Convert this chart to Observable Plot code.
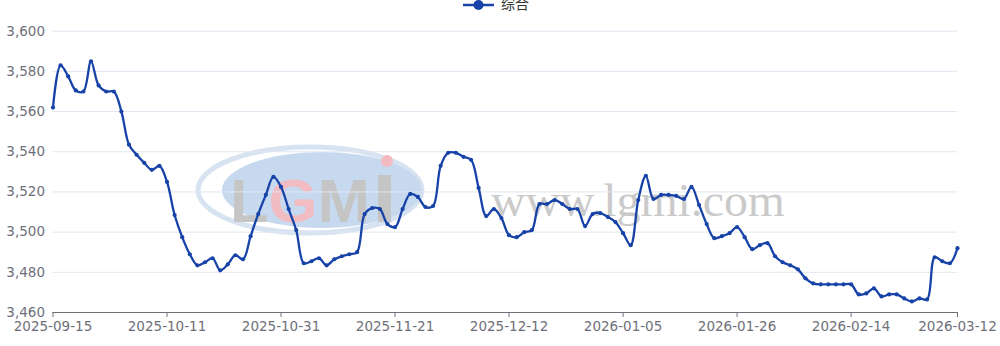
<!DOCTYPE html>
<html>
<head>
<meta charset="utf-8">
<script src="https://cdn.jsdelivr.net/npm/d3@7"></script>
<script src="https://cdn.jsdelivr.net/npm/@observablehq/plot@0.6"></script>
<style>
  html, body { margin: 0; padding: 0; background: #fff; }
  #wrap { position: relative; width: 1000px; height: 346px; overflow: hidden; }
  #wm { position: absolute; left: 0; top: 0; z-index: 0; }
  #legend { position: relative; z-index: 1; display: block; }
  #chart { position: relative; z-index: 1; }
</style>
</head>
<body>
<div id="wrap">
  <svg id="wm" width="1000" height="346">
    <g opacity="0.95">
      <ellipse cx="310" cy="190" rx="112" ry="43" fill="none" stroke="#d6e2f2" stroke-width="5"/>
      <ellipse cx="322" cy="190" rx="100" ry="38" fill="#c5d8ee"/>
      <text x="230" y="222" font-family="Liberation Sans, sans-serif" font-weight="bold" font-size="62" fill="#c4c2c2" textLength="140" lengthAdjust="spacingAndGlyphs"><tspan>L</tspan><tspan fill="#f1b9bf">G</tspan><tspan>M</tspan></text>
      <rect x="378" y="175" width="13" height="47" fill="#c4c2c2"/>
      <circle cx="387" cy="161" r="6" fill="#f3b6bd"/>
      <text x="491" y="216" font-family="Liberation Serif, serif" font-size="47" fill="#c8c8c8" textLength="294" lengthAdjust="spacingAndGlyphs">www.lgmi.com</text>
    </g>
  </svg>
  <svg id="legend" width="1000" height="12">
    <line x1="463" x2="494" y1="5" y2="5" stroke="#1742a8" stroke-width="2.5"/>
    <circle cx="478.5" cy="5" r="5" fill="#1742a8"/>
    <text x="501" y="5" dominant-baseline="middle" font-family="Noto Sans CJK SC, sans-serif" font-size="14" fill="#333">综合</text>
  </svg>
  <div id="chart"></div>
</div>
<script>
const dates = [
  "2025-09-15","2025-09-16","2025-09-17","2025-09-18","2025-09-19","2025-09-22","2025-09-23","2025-09-24","2025-09-25","2025-09-26",
  "2025-09-28","2025-09-29","2025-09-30","2025-10-09","2025-10-10","2025-10-11","2025-10-13","2025-10-14","2025-10-15","2025-10-16",
  "2025-10-17","2025-10-20","2025-10-21","2025-10-22","2025-10-23","2025-10-24","2025-10-27","2025-10-28","2025-10-29","2025-10-30",
  "2025-10-31","2025-11-03","2025-11-04","2025-11-05","2025-11-06","2025-11-07","2025-11-10","2025-11-11","2025-11-12","2025-11-13",
  "2025-11-14","2025-11-17","2025-11-18","2025-11-19","2025-11-20","2025-11-21","2025-11-24","2025-11-25","2025-11-26","2025-11-27",
  "2025-11-28","2025-12-01","2025-12-02","2025-12-03","2025-12-04","2025-12-05","2025-12-08","2025-12-09","2025-12-10","2025-12-11",
  "2025-12-12","2025-12-15","2025-12-16","2025-12-17","2025-12-18","2025-12-19","2025-12-22","2025-12-23","2025-12-24","2025-12-25",
  "2025-12-26","2025-12-29","2025-12-30","2025-12-31","2026-01-04","2026-01-05","2026-01-06","2026-01-07","2026-01-08","2026-01-09",
  "2026-01-12","2026-01-13","2026-01-14","2026-01-15","2026-01-16","2026-01-19","2026-01-20","2026-01-21","2026-01-22","2026-01-23",
  "2026-01-26","2026-01-27","2026-01-28","2026-01-29","2026-01-30","2026-02-02","2026-02-03","2026-02-04","2026-02-05","2026-02-06",
  "2026-02-09","2026-02-10","2026-02-11","2026-02-12","2026-02-13","2026-02-14","2026-02-24","2026-02-25","2026-02-26","2026-02-27",
  "2026-02-28","2026-03-02","2026-03-03","2026-03-04","2026-03-05","2026-03-06","2026-03-09","2026-03-10","2026-03-11","2026-03-12"
];
const values = [
  3562, 3583, 3577.5, 3570.5, 3570, 3585, 3573, 3570, 3570, 3560,
  3543.5, 3538.5, 3534.5, 3531, 3533, 3525, 3508.5, 3497.5, 3489, 3483.5,
  3485, 3487, 3481, 3484, 3488.5, 3486.5, 3498, 3509, 3518.5, 3527.5,
  3522.5, 3511.5, 3501, 3484.5, 3485.5, 3487, 3483.5, 3486.5, 3488, 3489,
  3490, 3509, 3512, 3511.5, 3504, 3502.5, 3511.5, 3519, 3517.5, 3512.5,
  3513, 3533, 3539.5, 3539.5, 3537.5, 3536, 3522, 3508, 3511.5, 3507,
  3498.5, 3497.5, 3500, 3501, 3514, 3514, 3516, 3514, 3511.5, 3511.5,
  3503, 3509, 3509.5, 3507.5, 3505, 3499.5, 3493.5, 3516, 3528, 3516.5,
  3518.5, 3518.5, 3518, 3516.5, 3522.5, 3513.5, 3504, 3497, 3498, 3499.5,
  3502.5, 3497.5, 3491.5, 3493.5, 3494.5, 3488, 3485, 3483.5, 3481.5, 3477,
  3474.5, 3474, 3474, 3474, 3474, 3474, 3469, 3469.5, 3472, 3468,
  3469, 3469, 3467, 3465.5, 3467, 3466.5, 3487.5, 3485.5, 3484.5, 3492
];
const xTickLabels = ["2025-09-15","2025-10-11","2025-10-31","2025-11-21","2025-12-12","2026-01-05","2026-01-26","2026-02-14","2026-03-12"];
const yTicks = [3460, 3480, 3500, 3520, 3540, 3560, 3580, 3600];
const seriesName = "综合";

const rows = dates.map((d, i) => ({date: d, value: values[i]}));
const color = "#1742a8";
const axisColor = "#6e7079";

const chart = Plot.plot({
  width: 1000,
  height: 334,
  marginTop: 18.7,
  marginBottom: 34,
  marginLeft: 52.5,
  marginRight: 43,
  style: {background: "transparent", fontFamily: "DejaVu Sans, sans-serif", fontSize: "13.5px", color: axisColor, overflow: "visible"},
  x: {type: "point", domain: dates, padding: 0, axis: null},
  y: {domain: [3460, 3600], axis: null},
  marks: [
    Plot.gridY(yTicks, {stroke: "#e0e6f1", strokeOpacity: 1}),
    Plot.axisY(yTicks, {tickSize: 0, tickPadding: 8, tickFormat: d3.format(","), color: axisColor, label: null, fontSize: 13.5}),
    Plot.ruleY([3460], {stroke: axisColor}),
    Plot.axisX(xTickLabels, {tickSize: 5, tickPadding: 4, color: axisColor, label: null, fontSize: 13.5}),
    Plot.line(rows, {x: "date", y: "value", curve: "catmull-rom", stroke: color, strokeWidth: 2.3}),
    Plot.dot(rows, {x: "date", y: "value", r: 2.1, fill: color, stroke: "none"})
  ]
});
document.getElementById("chart").appendChild(chart);
</script>
</body>
</html>
